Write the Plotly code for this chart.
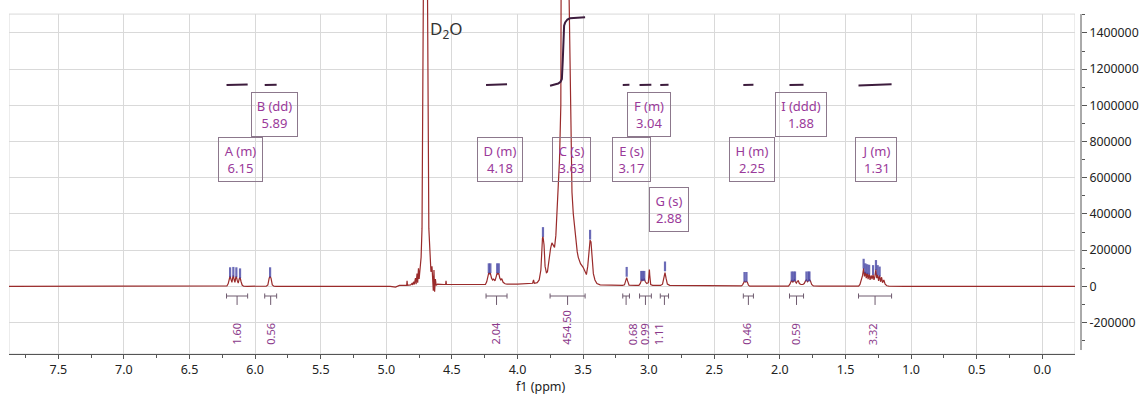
import plotly.graph_objects as go

# ---------------- data ----------------
# spectrum vertices: chemical shift (ppm) and intensity
spec_ppm = [
    7.876, 6.23,
    6.215, 6.205, 6.197, 6.191, 6.184, 6.177, 6.171, 6.166, 6.160, 6.154, 6.148, 6.143, 6.137, 6.129, 6.121, 6.115, 6.108, 6.099, 6.088,
    6.06, 5.915, 5.903, 5.893, 5.886, 5.879, 5.869, 5.857,
    5.84, 4.97, 4.93, 4.90, 4.86,
    4.845, 4.842, 4.839, 4.815, 4.805, 4.800, 4.792, 4.787, 4.778, 4.773, 4.766, 4.761, 4.755, 4.750, 4.742, 4.735, 4.728, 4.718,
    4.702,
    4.686, 4.676, 4.668, 4.660, 4.652, 4.647, 4.642, 4.637, 4.632, 4.626, 4.620, 4.61, 4.59, 4.56, 4.548, 4.545, 4.542, 4.50, 4.40, 4.30,
    4.26, 4.245, 4.235, 4.225, 4.219, 4.213, 4.207, 4.198, 4.190, 4.182, 4.172, 4.162, 4.155, 4.149, 4.143, 4.135, 4.127, 4.120, 4.110, 4.095, 4.08,
    4.00, 3.95, 3.90, 3.885, 3.878, 3.872, 3.85,
    3.835, 3.822, 3.815, 3.810, 3.806, 3.798, 3.790, 3.780, 3.772, 3.760, 3.748, 3.738, 3.728, 3.718, 3.708, 3.698, 3.688, 3.680, 3.670, 3.660,
    3.633,
    3.607, 3.595, 3.585, 3.575, 3.565, 3.555, 3.545, 3.537, 3.520, 3.500, 3.485, 3.475, 3.465, 3.455, 3.447, 3.440, 3.432, 3.422, 3.410, 3.395, 3.37,
    3.30, 3.22, 3.20, 3.185, 3.175, 3.168, 3.161, 3.150, 3.10,
    3.075, 3.065, 3.057, 3.052, 3.046, 3.040, 3.034, 3.026, 3.015, 3.003, 2.998, 2.995, 2.992, 2.985, 2.97,
    2.91, 2.895, 2.885, 2.876, 2.868, 2.858, 2.84, 2.60, 2.30,
    2.295, 2.285, 2.277, 2.270, 2.262, 2.255, 2.248, 2.240, 2.23, 2.10, 1.95,
    1.935, 1.925, 1.916, 1.910, 1.903, 1.897, 1.889, 1.882, 1.875, 1.867, 1.860, 1.852, 1.840, 1.825, 1.815, 1.805, 1.798, 1.790, 1.783, 1.775, 1.768, 1.758, 1.745, 1.70,
    1.42, 1.40, 1.39, 1.378, 1.370, 1.362, 1.356, 1.349, 1.342, 1.335, 1.328, 1.320, 1.313, 1.305, 1.298, 1.290, 1.283, 1.276, 1.268, 1.262, 1.255, 1.248, 1.240, 1.233, 1.225, 1.218, 1.208, 1.198, 1.185, 1.17,
    1.05, -0.249,
]
spec_int = [
    0, 0,
    2000, 15000, 48000, 57000, 38000, 22000, 48000, 60000, 36000, 22000, 47000, 55000, 34000, 18000, 42000, 50000, 28000, 7000, 1000,
    0, 1000, 8000, 45000, 55000, 45000, 8000, 1000,
    0, 0, -4000, 5000, 6000,
    6000, 30000, 6000, 8000, 15000, 8000, 25000, 10000, 45000, 12000, 70000, 20000, 100000, 40000, 120000, 160000, 320000, 1600000,
    30000000,
    1600000, 320000, 160000, 80000, 110000, 40000, -25000, 90000, -30000, 40000, 5000, 12000, 10000, 10000, 10000, 30000, 10000, 10000, 12000, 10000,
    10000, 10000, 25000, 65000, 75000, 70000, 72000, 45000, 35000, 40000, 30000, 55000, 75000, 68000, 73000, 45000, 35000, 42000, 22000, 14000, 12000,
    12000, 14000, 15000, 17000, 35000, 17000, 20000,
    35000, 90000, 220000, 265000, 275000, 230000, 110000, 75000, 80000, 150000, 210000, 240000, 225000, 215000, 280000, 420000, 560000, 700000, 1000000, 1600000,
    12000000,
    1600000, 850000, 520000, 400000, 320000, 260000, 190000, 160000, 125000, 105000, 80000, 65000, 110000, 200000, 255000, 245000, 150000, 70000, 35000, 15000, 8000,
    6000, 5000, 5000, 8000, 30000, 48000, 30000, 6000, 5000,
    5000, 15000, 35000, 40000, 32000, 38000, 40000, 25000, 15000, 20000, 60000, 92000, 60000, 10000, 5000,
    5000, 12000, 45000, 75000, 45000, 12000, 5000, 3000, 2000,
    2000, 8000, 25000, 28000, 24000, 28000, 22000, 6000, 1000, 1000, 2000,
    1000, 10000, 33000, 35000, 22000, 30000, 36000, 25000, 18000, 28000, 30000, 15000, 10000, 10000, 15000, 30000, 36000, 25000, 33000, 37000, 30000, 10000, 2000, 1000,
    1000, 1000, 10000, 35000, 60000, 100000, 55000, 80000, 45000, 75000, 40000, 70000, 35000, 60000, 40000, 65000, 35000, 55000, 95000, 45000, 65000, 30000, 60000, 25000, 50000, 20000, 35000, 12000, 3000, 1000,
    0, 0,
]

# picked peaks (blue marks)
pick_ppm = [6.191, 6.166, 6.143, 6.115, 5.886,
            4.219, 4.207, 4.155, 4.143, 3.806, 3.447,
            3.168, 3.057, 3.046, 3.034, 2.876,
            2.270, 2.255, 1.910, 1.897, 1.885, 1.798, 1.783, 1.775,
            1.362, 1.349, 1.335, 1.320, 1.290, 1.268, 1.255, 1.240]
pick_int = [78000, 80000, 78000, 72000, 78000,
            100000, 100000, 100000, 100000, 300000, 285000,
            80000, 58000, 58000, 58000, 110000,
            52000, 52000, 55000, 55000, 55000, 55000, 55000, 55000,
            125000, 100000, 95000, 92000, 90000, 118000, 90000, 82000]

# integrals
integral_start = [6.218, 5.927, 4.240, 3.752, 3.198, 3.070, 2.912, 2.279, 1.927, 1.401]
integral_end   = [6.057, 5.836, 4.080, 3.485, 3.147, 2.980, 2.849, 2.202, 1.820, 1.149]
integral_lo    = [1112000, 1112000, 1112000, 1108000, 1112000, 1112000, 1112000, 1112000, 1112000, 1110000]
integral_hi    = [1115000, 1113000, 1116000, 1487000, 1113000, 1114000, 1114000, 1113000, 1114000, 1117000]
integral_text  = ["1.60", "0.56", "2.04", "454.50", "0.68", "0.99", "1.11", "0.46", "0.59", "3.32"]
# integral curve of the big C signal
c_int_ppm = [3.752, 3.72, 3.69, 3.672, 3.662, 3.655, 3.650, 3.645, 3.637, 3.62, 3.60, 3.55, 3.485]
c_int_val = [1108000, 1112000, 1120000, 1130000, 1145000, 1250000, 1400000, 1440000, 1458000, 1474000, 1481000, 1485000, 1487000]

# multiplet labels
mult_label = ["A (m)", "B (dd)", "D (m)", "C (s)", "E (s)", "F (m)", "G (s)", "H (m)", "I (ddd)", "J (m)"]
mult_shift = ["6.15", "5.89", "4.18", "3.63", "3.17", "3.04", "2.88", "2.25", "1.88", "1.31"]

# axis ticks
x_tick_vals = [7.5, 7.0, 6.5, 6.0, 5.5, 5.0, 4.5, 4.0, 3.5, 3.0, 2.5, 2.0, 1.5, 1.0, 0.5, 0.0]
x_tick_text = ["7.5", "7.0", "6.5", "6.0", "5.5", "5.0", "4.5", "4.0", "3.5", "3.0", "2.5", "2.0", "1.5", "1.0", "0.5", "0.0"]
y_tick_vals = [-200000, 0, 200000, 400000, 600000, 800000, 1000000, 1200000, 1400000]
y_tick_text = ["-200000", "0", "200000", "400000", "600000", "800000", "1000000", "1200000", "1400000"]

# ---------------- layout positions / styles ----------------
FONT = "Noto Sans, DejaVu Sans, sans-serif"
box_x = [6.111, 5.852, 4.134, 3.588, 3.131, 2.998, 2.845, 2.213, 1.839, 1.268]
box_y = [703000, 949000, 703000, 703000, 703000, 949000, 424000, 703000, 949000, 703000]
box_w = [35, 37, 36, 29, 29, 34, 30, 36, 42, 32]
label_x = [6.140, 5.881, 4.171, 3.625, 3.117, 3.028, 2.919, 2.253, 1.877, 1.288]
C_INDEX = 3
BAR_Y, CAP, TICK_Y = -53600, 14000, -103000
LABEL_Y = -335000
FRAME_TOP = 1504000
Y_MIN, Y_MAX = -374000, 1581800
X_LEFT, X_RIGHT = 7.876, -0.249
PICK_COLOR = "rgba(70,70,165,0.8)"

fig = go.Figure()

fig.add_trace(go.Scatter(x=spec_ppm, y=spec_int, mode="lines",
                         line=dict(color="#9a2b2b", width=1.2), hoverinfo="skip"))

fig.add_trace(go.Scatter(x=pick_ppm, y=pick_int, mode="markers",
                         marker=dict(symbol="line-ns-open", size=7, color=PICK_COLOR,
                                     line=dict(color=PICK_COLOR, width=2.2)),
                         hoverinfo="skip"))

ix, iy = [], []
for i, (s, e, lo, hi) in enumerate(zip(integral_start, integral_end, integral_lo, integral_hi)):
    if i == C_INDEX:
        ix += c_int_ppm + [None]
        iy += c_int_val + [None]
    else:
        ix += [s, e, None]
        iy += [lo, hi, None]
fig.add_trace(go.Scatter(x=ix, y=iy, mode="lines", line=dict(color="#3d1c3d", width=2),
                         hoverinfo="skip"))

bx, by = [], []
for s, e in zip(integral_start, integral_end):
    c = (s + e) / 2
    bx += [s, e, None, s, s, None, e, e, None, c, c, None]
    by += [BAR_Y, BAR_Y, None, BAR_Y + CAP, BAR_Y - CAP, None,
           BAR_Y + CAP, BAR_Y - CAP, None, BAR_Y, TICK_Y, None]
fig.add_trace(go.Scatter(x=bx, y=by, mode="lines", line=dict(color="#6e5a6e", width=1),
                         hoverinfo="skip"))

annotations = []
for lab, sh, px, py, w in zip(mult_label, mult_shift, box_x, box_y, box_w):
    annotations.append(dict(x=px, y=py, xref="x", yref="y", text=f"{lab}<br>{sh}",
                            showarrow=False, align="center", width=w,
                            font=dict(size=13, color="#9a3a9a", family=FONT),
                            bordercolor="#8c788c", borderwidth=1, borderpad=4))
for t, lx in zip(integral_text, label_x):
    annotations.append(dict(x=lx, y=LABEL_Y, xref="x", yref="y", text=t, textangle=-90,
                            showarrow=False, xanchor="center", yanchor="bottom",
                            font=dict(size=11, color="#8b3a8b", family=FONT)))
annotations.append(dict(x=4.680, y=1421000, xref="x", yref="y", text="D<sub>2</sub>O",
                        showarrow=False, xanchor="left", yanchor="middle",
                        font=dict(size=17, color="#333333", family=FONT)))
annotations.append(dict(x=0.4963, y=-0.0904, xref="paper", yref="paper", text="f1 (ppm)",
                        showarrow=False, xanchor="center", yanchor="middle",
                        font=dict(size=12.5, color="#222222", family=FONT)))

shapes = [
    dict(type="rect", xref="x", yref="y", x0=X_LEFT, x1=X_RIGHT, y0=FRAME_TOP, y1=Y_MAX + 50000,
         fillcolor="white", line=dict(width=0), layer="between"),
    dict(type="rect", xref="x", yref="y", x0=X_LEFT, x1=X_RIGHT, y0=Y_MIN, y1=FRAME_TOP,
         line=dict(color="#d9d9d9", width=1), layer="between"),
    dict(type="line", xref="paper", yref="y", x0=1, x1=1, y0=-352000, y1=FRAME_TOP,
         line=dict(color="#555555", width=1)),
]

x_minor = [v - 0.25 for v in x_tick_vals if v - 0.25 > X_RIGHT] + [7.75]
y_minor = [v + 100000 for v in [-400000] + y_tick_vals]

fig.update_layout(
    width=1139, height=394,
    margin=dict(l=9, r=58, t=0, b=40),
    paper_bgcolor="white", plot_bgcolor="white",
    showlegend=False,
    font=dict(family=FONT, size=13, color="#222222"),
    xaxis=dict(domain=[0, 0.9944], range=[X_LEFT, X_RIGHT],
               tickmode="array", tickvals=x_tick_vals, ticktext=x_tick_text,
               ticks="outside", ticklen=4, tickcolor="#555555",
               showgrid=True, gridcolor="#d9d9d9", gridwidth=1, zeroline=False,
               showline=True, linecolor="#555555", linewidth=1,
               tickfont=dict(size=12.5, color="#222222", family=FONT),
               minor=dict(tickmode="array", tickvals=x_minor, ticks="outside",
                          ticklen=3, tickcolor="#555555", showgrid=False)),
    yaxis=dict(range=[Y_MIN, Y_MAX], side="right", anchor="free", position=1,
               tickmode="array", tickvals=y_tick_vals, ticktext=y_tick_text,
               ticks="outside", ticklen=5, tickcolor="#555555",
               showgrid=True, gridcolor="#d9d9d9", gridwidth=1, zeroline=False,
               showline=False,
               tickfont=dict(size=12.3, color="#222222", family=FONT),
               minor=dict(tickmode="array", tickvals=y_minor, ticks="outside",
                          ticklen=3, tickcolor="#555555", showgrid=False)),
    annotations=annotations,
    shapes=shapes,
)

fig.write_html("out.html")
